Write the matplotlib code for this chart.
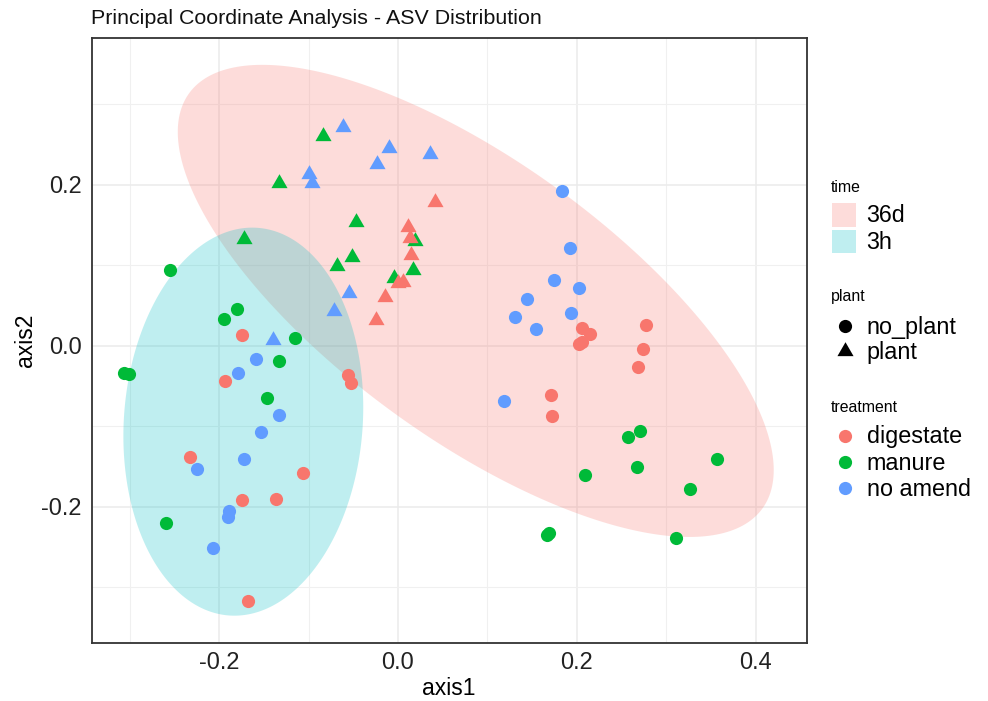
import matplotlib
matplotlib.use("Agg")
import matplotlib.pyplot as plt
import numpy as np
from matplotlib.path import Path
from matplotlib.patches import Polygon, Rectangle
from matplotlib.lines import Line2D

plt.rcParams['font.family'] = ['Liberation Sans', 'DejaVu Sans']

# legend groups
time_names = ['36d', '3h']
time_colors = ['#F8766D', '#00BFC4']
plant_names = ['no_plant', 'plant']
treat_names = ['digestate', 'manure', 'no amend']
treat_colors = ['#F8766D', '#00BA38', '#619CFF']

# samples without plant (circles)
dig_np_x = [-0.175, -0.194, -0.056, -0.053, -0.233, -0.106, -0.174, -0.136, -0.168,
            0.206, 0.215, 0.206, 0.203, 0.277, 0.274, 0.268, 0.171, 0.172]
dig_np_y = [0.014, -0.044, -0.036, -0.046, -0.138, -0.158, -0.191, -0.190, -0.317,
            0.022, 0.015, 0.005, 0.003, 0.026, -0.004, -0.026, -0.061, -0.087]
man_np_x = [-0.255, -0.180, -0.195, -0.115, -0.133, -0.306, -0.301, -0.146, -0.260,
            0.257, 0.271, 0.267, 0.209, 0.357, 0.327, 0.169, 0.167, 0.311]
man_np_y = [0.094, 0.046, 0.033, 0.010, -0.019, -0.034, -0.035, -0.065, -0.220,
            -0.113, -0.106, -0.150, -0.160, -0.141, -0.178, -0.232, -0.235, -0.239]
noa_np_x = [-0.159, -0.179, -0.133, -0.153, -0.172, -0.225, -0.189, -0.190, -0.207,
            0.184, 0.192, 0.175, 0.202, 0.144, 0.131, 0.194, 0.154, 0.119]
noa_np_y = [-0.016, -0.033, -0.086, -0.107, -0.140, -0.153, -0.205, -0.212, -0.251,
            0.192, 0.122, 0.082, 0.072, 0.058, 0.036, 0.041, 0.021, -0.068]

# samples with plant (triangles)
dig_p_x = [0.041, 0.011, 0.013, 0.015, 0.000, 0.006, -0.015, -0.025]
dig_p_y = [0.179, 0.148, 0.134, 0.113, 0.078, 0.079, 0.061, 0.032]
man_p_x = [-0.084, -0.133, -0.047, 0.019, -0.051, -0.068, 0.017, -0.005, -0.172]
man_p_y = [0.261, 0.202, 0.154, 0.130, 0.110, 0.099, 0.094, 0.084, 0.133]
noa_p_x = [-0.062, -0.010, -0.023, 0.036, -0.100, -0.096, -0.055, -0.072, -0.140]
noa_p_y = [0.272, 0.246, 0.226, 0.239, 0.214, 0.203, 0.066, 0.044, 0.008]

# 95% ellipses per time (centre and shape matrix)
ell_centre = [(0.087, 0.056), (-0.173, -0.094)]
ell_shape = [[[0.1111, -0.0700], [-0.0700, 0.0860]],
             [[0.0180, 0.0024], [0.0024, 0.0581]]]

W, H = 988, 701
fig = plt.figure(figsize=(W / 100, H / 100), dpi=100)
ax = fig.add_axes([91.7 / W, 1 - 642.7 / H, 715 / W, 604.7 / H])

def fx(px):
    return px / W

def fy(py):
    return 1 - py / H

t = np.linspace(0, 2 * np.pi, 300)
circ = np.vstack([np.cos(t), np.sin(t)])
for c, S, col in zip(ell_centre, ell_shape, time_colors):
    L = np.linalg.cholesky(np.array(S))
    pts = (L @ circ).T + np.array(c)
    ax.add_patch(Polygon(pts, closed=True, facecolor=col, alpha=0.25,
                         edgecolor='none', zorder=1))

tri = Path([(-1, -0.577), (1, -0.577), (0, 1.155), (-1, -0.577)],
           [Path.MOVETO, Path.LINETO, Path.LINETO, Path.CLOSEPOLY])

np_sets = [(dig_np_x, dig_np_y), (man_np_x, man_np_y), (noa_np_x, noa_np_y)]
p_sets = [(man_p_x, man_p_y), (noa_p_x, noa_p_y), (dig_p_x, dig_p_y)]
p_cols = [treat_colors[1], treat_colors[2], treat_colors[0]]

for (xs, ys), col in zip(np_sets, treat_colors):
    ax.scatter(xs, ys, s=90, marker='o', color=col, linewidths=0, zorder=3)
for (xs, ys), col in zip(p_sets, p_cols):
    ax.scatter(xs, ys, s=180, marker=tri, color=col, linewidths=0, zorder=3)

ax.set_xlim(-0.3426, 0.4572)
ax.set_ylim(-0.3686, 0.3826)
ax.set_xticks([-0.2, 0.0, 0.2, 0.4])
ax.set_xticklabels(['-0.2', '0.0', '0.2', '0.4'])
ax.set_xticks([-0.3, -0.1, 0.1, 0.3], minor=True)
ax.set_yticks([-0.2, 0.0, 0.2])
ax.set_yticklabels(['-0.2', '0.0', '0.2'])
ax.set_yticks([-0.3, -0.1, 0.1, 0.3], minor=True)
ax.grid(which='major', color='#EBEBEB', linewidth=1.1)
ax.grid(which='minor', color='#F0F0F0', linewidth=0.8)
ax.set_axisbelow(True)
ax.tick_params(which='both', length=0, labelsize=17, colors='#222222')
ax.tick_params(axis='y', pad=7)
ax.tick_params(axis='x', pad=7)
for sp in ax.spines.values():
    sp.set_color('#333333')
    sp.set_linewidth(1.3)
ax.set_xlabel('axis1', fontsize=16.5, labelpad=2)
ax.set_ylabel('axis2', fontsize=16.5, labelpad=3)

fig.text(fx(91), fy(18), 'Principal Coordinate Analysis - ASV Distribution',
         fontsize=15.4, ha='left', va='center', color='#111111')

# legends, drawn by hand in the right margin
lab_x = 866.5
fig.text(fx(831), fy(188), 'time', fontsize=11.4, va='center')
for i, (name, col) in enumerate(zip(time_names, time_colors)):
    top = 203 + i * 26.5
    fig.add_artist(Rectangle((fx(832), fy(top + 23.5)), 24 / W, 23.5 / H,
                             transform=fig.transFigure, facecolor=col,
                             alpha=0.25, edgecolor='none'))
    fig.text(fx(lab_x), fy(top + 12.5), name, fontsize=16.8, va='center')

fig.text(fx(831), fy(297), 'plant', fontsize=11.4, va='center')
for i, (name, mk, ms) in enumerate(zip(plant_names, ['o', tri], [9.5, 13.4])):
    yy = 326 + i * 25
    fig.add_artist(Line2D([fx(844.5)], [fy(yy)], marker=mk, markersize=ms,
                          color='black', markeredgewidth=0, linestyle='none',
                          transform=fig.transFigure))
    fig.text(fx(lab_x), fy(yy + 1.5), name, fontsize=16.8, va='center')

fig.text(fx(831), fy(407), 'treatment', fontsize=11.4, va='center')
for i, (name, col) in enumerate(zip(treat_names, treat_colors)):
    yy = 435.5 + i * 26
    fig.add_artist(Line2D([fx(844.5)], [fy(yy)], marker='o', markersize=9.5,
                          color=col, markeredgewidth=0, linestyle='none',
                          transform=fig.transFigure))
    fig.text(fx(lab_x), fy(yy + 1.5), name, fontsize=16.8, va='center')

fig.savefig('out.png', dpi=100)
